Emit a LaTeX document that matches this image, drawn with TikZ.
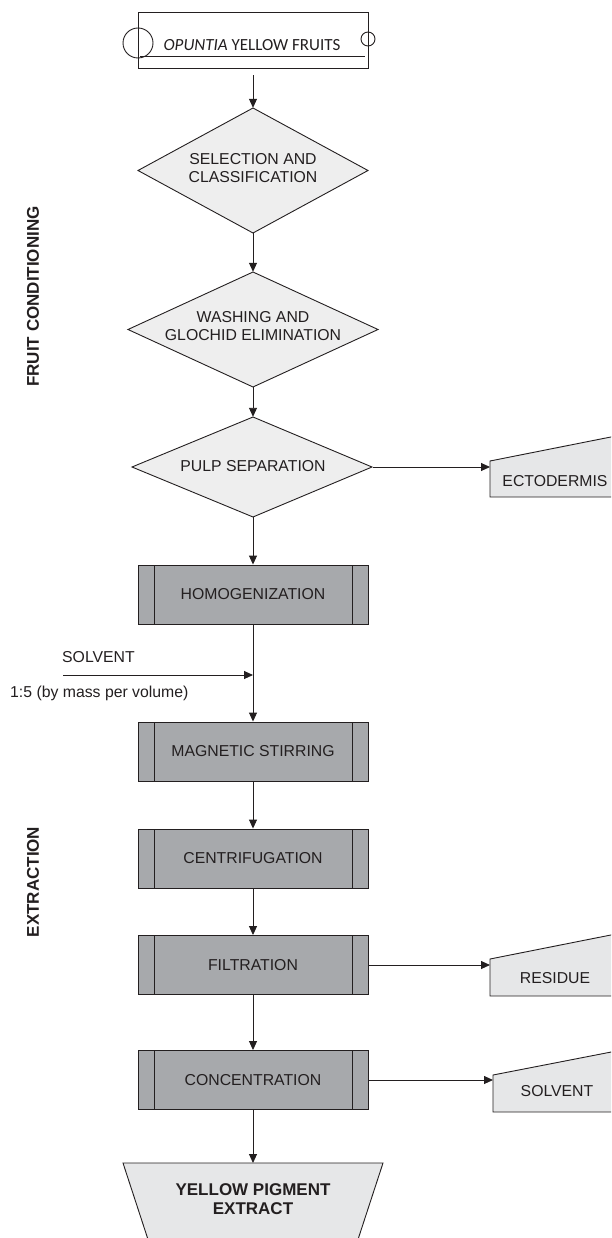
\documentclass[tikz,border=0pt]{standalone}
\usepackage{fontspec}
\setmainfont{Liberation Sans}
\newfontfamily\calib{Carlito}
\usetikzlibrary{arrows.meta,calc}
\definecolor{linec}{HTML}{231F20}
\definecolor{procfill}{HTML}{A7A9AC}
\definecolor{diafill}{HTML}{EEEEEE}
\definecolor{outfill}{HTML}{E6E7E8}
\tikzset{
  ln/.style={draw=linec, line width=0.9pt},
  arr/.style={-{Triangle[length=9pt,width=8pt]}, line width=0.9pt, draw=linec},
  proc/.style={rectangle, draw=linec, fill=procfill, line width=0.9pt,
    minimum width=230pt, minimum height=59pt, inner sep=0pt,
    font=\fontsize{15.8}{18}\selectfont, text=linec,
    path picture={
      \draw[line width=0.9pt, linec] ([xshift=16pt]path picture bounding box.north west) -- ([xshift=16pt]path picture bounding box.south west);
      \draw[line width=0.9pt, linec] ([xshift=-16pt]path picture bounding box.north east) -- ([xshift=-16pt]path picture bounding box.south east);
    }},
  txt/.style={font=\fontsize{15.8}{18.5}\selectfont, text=linec, align=center, inner sep=0pt},
  side/.style={font=\bfseries\fontsize{17}{19}\selectfont, text=linec, rotate=90, inner sep=0pt},
  outshape/.style={fill=outfill, draw=linec, line width=0.9pt},
  diashape/.style={fill=diafill, draw=linec, line width=0.9pt},
}
\begin{document}
\begin{tikzpicture}[x=1pt,y=-1pt]
\useasboundingbox (0,0) rectangle (611,1238);
\clip (0,0) rectangle (611,1238);

% top input box
\node[rectangle, draw=linec, line width=0.9pt, minimum width=230pt, minimum height=56pt, inner sep=0pt] (top) at (253,40) {};
\draw[ln] (138,43) circle (15pt);
\draw[ln] (368,39) circle (7pt);
\draw[ln] (140,56) -- (365,56);
\node[inner sep=0pt, text=linec, font=\calib\fontsize{17}{20}\selectfont] (toptxt) at (252,45) {\textit{OPUNTIA} YELLOW FRUITS};

% diamonds
\draw[diashape] (138,170.5) -- (253,108) -- (368,170.5) -- (253,233) -- cycle;
\node[inner sep=0pt, minimum width=230pt, minimum height=125pt] (d1) at (253,170.5) {};
\node[txt] (d1t) at (253,168) {SELECTION AND\\CLASSIFICATION};

\draw[diashape] (128,329.5) -- (253,272) -- (378,329.5) -- (253,387) -- cycle;
\node[inner sep=0pt, minimum width=250pt, minimum height=115pt] (d2) at (253,329.5) {};
\node[txt] (d2t) at (253,326) {WASHING AND\\GLOCHID ELIMINATION};

\draw[diashape] (132,467) -- (253,417) -- (372,467) -- (253,517) -- cycle;
\node[inner sep=0pt, minimum width=240pt, minimum height=100pt] (d3) at (253,467) {};
\node[txt] (d3t) at (253,466) {PULP SEPARATION};

% process boxes
\node[proc] (homog) at (253,594.5) {HOMOGENIZATION};
\node[proc] (mag) at (253,751.5) {MAGNETIC STIRRING};
\node[proc] (cent) at (253,858.5) {CENTRIFUGATION};
\node[proc] (filt) at (253,965) {FILTRATION};
\node[proc] (conc) at (253,1080) {CONCENTRATION};

% final output
\draw[outshape] (123,1163) -- (383,1163) -- (348,1270) -- (158,1270) -- cycle;
\coordinate (final) at (253,1163);
\node[font=\bfseries\fontsize{17}{19.5}\selectfont, text=linec, align=center, inner sep=0pt] (finalt) at (253,1199) {YELLOW PIGMENT\\EXTRACT};

% side outputs
\draw[outshape] (490,461) -- (640,431.2) -- (640,497) -- (490,497) -- cycle;
\coordinate (ecto) at (490,467);
\node[txt] (ectot) at (555,481) {ECTODERMIS};

\draw[outshape] (490,959) -- (640,929.2) -- (640,996) -- (490,996) -- cycle;
\coordinate (resid) at (490,965);
\node[txt] (residt) at (555,978) {RESIDUE};

\draw[outshape] (493,1075) -- (640,1046.4) -- (640,1112) -- (493,1112) -- cycle;
\coordinate (solvout) at (493,1080);
\node[txt] (solvoutt) at (557,1091) {SOLVENT};

% solvent input
\coordinate (solvin) at (63,675);
\coordinate (join) at (253,675);
\node[txt, anchor=west] (solvlab) at (62,657) {SOLVENT};
\node[txt, anchor=west] (ratio) at (10,693) {1:5 (by mass per volume)};

% side labels
\node[side] (fc) at (33,296.5) {FRUIT CONDITIONING};
\node[side] (ex) at (33,882) {EXTRACTION};

% connectors
\draw[arr, shorten <=7pt] (top.south) -- (d1.north);
\draw[arr] (d1.south) -- (d2.north);
\draw[arr] (d2.south) -- (d3.north);
\draw[arr] (d3.south) -- (homog.north);
\draw[arr] (homog.south) -- (mag.north);
\draw[arr] (solvin) -- (join);
\draw[arr] (mag.south) -- (cent.north);
\draw[arr] (cent.south) -- (filt.north);
\draw[arr] (filt.south) -- (conc.north);
\draw[arr] (conc.south) -- (final);
\draw[arr] (d3.east) -- (ecto);
\draw[arr] (filt.east) -- (resid);
\draw[arr] (conc.east) -- (solvout);
\end{tikzpicture}
\end{document}
